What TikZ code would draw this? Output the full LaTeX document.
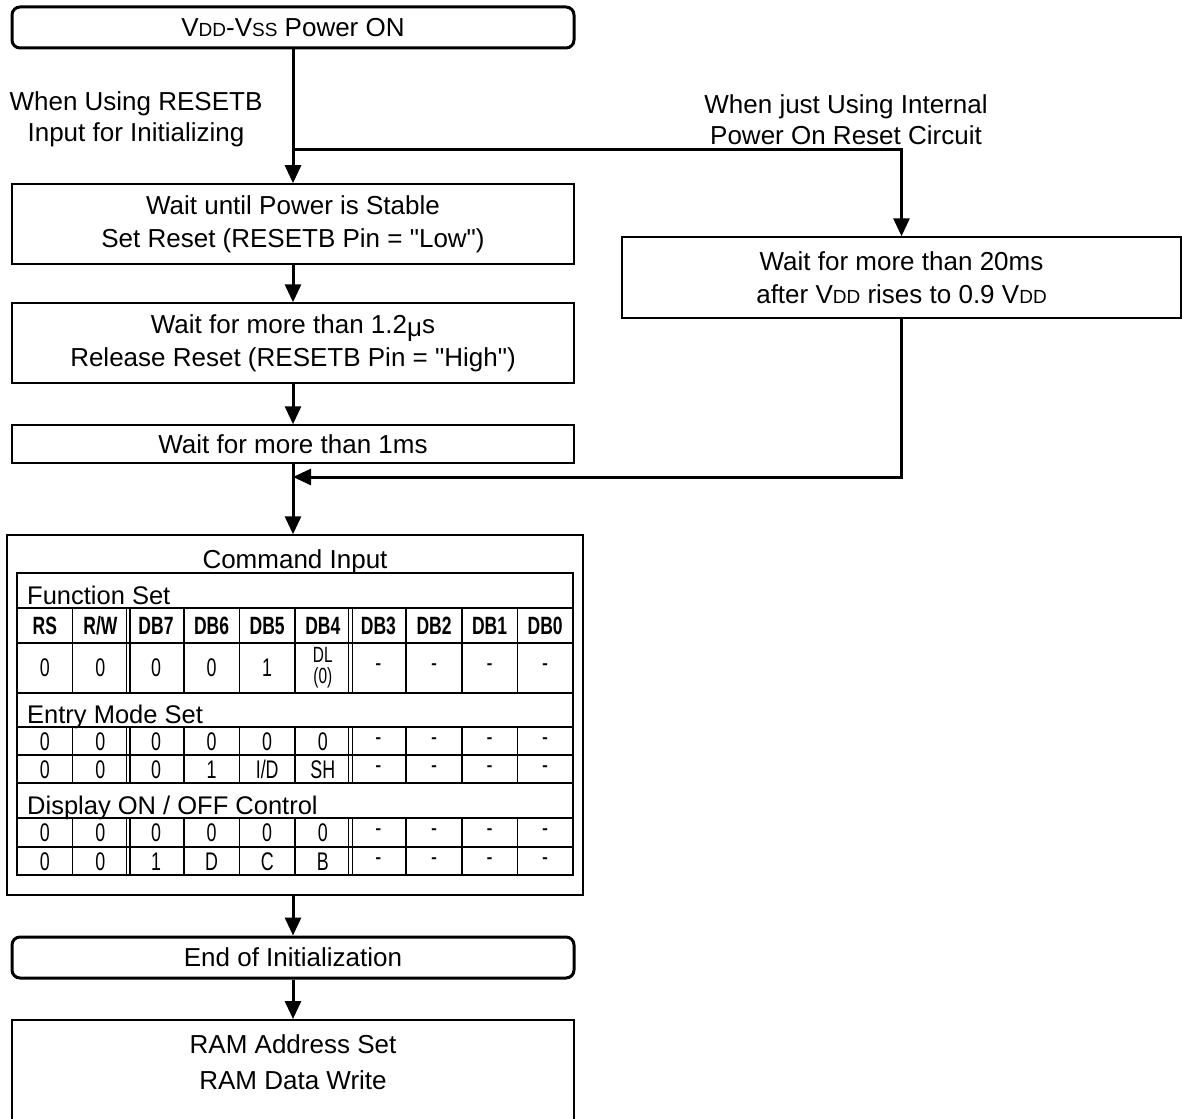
\documentclass[tikz,border=0pt]{standalone}
\usepackage{fontspec}
\setmainfont{Liberation Sans}
\newfontfamily\narrowfont[FakeStretch=0.7]{Liberation Sans}
\newfontfamily\plainq[Ligatures=ResetAll]{Liberation Sans}
\usetikzlibrary{arrows.meta}
\newcommand\smc[1]{{\fontsize{19}{20}\selectfont #1}}
\newcommand\qq{{\plainq\symbol{34}}}
\begin{document}
\begin{tikzpicture}[x=1pt,y=-1pt,
  box/.style={draw, line width=1.5pt, inner sep=0pt, align=center, minimum width=562pt,
              font=\fontsize{26}{33}\selectfont},
  rbox/.style={box, rounded corners=8pt, line width=3pt},
  lbl/.style={inner sep=0pt, align=center, font=\fontsize{26}{31}\selectfont},
  flow/.style={line width=3pt, -{Triangle[length=18pt,width=16pt]}},
  grid/.style={line width=1.6pt},
  dgrid/.style={line width=1.1pt},
  sect/.style={inner sep=0pt, anchor=base west, font=\fontsize{25.5}{28}\selectfont},
  cell/.style={inner sep=0pt, align=center, font=\narrowfont\fontsize{25.5}{22}\selectfont},
  scell/.style={inner sep=0pt, align=center, font=\narrowfont\fontsize{22}{21}\selectfont},
  hcell/.style={cell, font=\narrowfont\bfseries\fontsize{25}{22}\selectfont}]
\useasboundingbox (0,0) rectangle (1182,1118);
\clip (0,0) rectangle (1182,1118);
\fill[white] (0,0) rectangle (1182,1118);

% flow boxes
\node[rbox, minimum height=41pt] (top) at (293,27.5) {V\smc{DD}-V\smc{SS} Power ON};
\node[box, minimum height=80pt] (b2) at (293,224) {Wait until Power is Stable\\Set Reset (RESETB Pin = \qq Low\qq)};
\node[box, minimum height=80pt] (b3) at (293,343) {Wait for more than 1.2\raisebox{-3pt}{μ}s\\Release Reset (RESETB Pin = \qq High\qq)};
\node[box, minimum height=38pt] (b4) at (293,444) {Wait for more than 1ms};
\node[box, minimum width=559pt, minimum height=81pt] (rb) at (901.5,277.5) {Wait for more than 20ms\\after V\smc{DD} rises to 0.9 V\smc{DD}};
\node[box, minimum width=576pt, minimum height=360pt] (cmd) at (295,715) {};
\node[lbl, anchor=base] (cmdt) at (295,568) {Command Input};
\node[rbox, minimum height=41pt] (eoi) at (293,957.5) {End of Initialization};
\node[box, minimum height=140pt, anchor=north] (ram) at (293,1019) {};
\node[lbl, align=center, font=\fontsize{26}{36}\selectfont] (ramt) at (293,1062) {RAM Address Set\\RAM Data Write};

% labels
\node[lbl] (l1) at (136,119.5) {When Using RESETB\\Input for Initializing};
\node[lbl] (l2) at (846,119.5) {When just Using Internal\\Power On Reset Circuit};

% connectors
\coordinate (j1) at (293,150);
\coordinate (j2) at (293,477);
\draw[flow] (top.south) -- (b2.north);
\draw[flow] (j1) -| (rb.north);
\draw[flow] (b2.south) -- (b3.north);
\draw[flow] (b3.south) -- (b4.north);
\draw[flow] (b4.south) -- (b4.south |- cmd.north);
\draw[flow] (rb.south) |- (j2);
\draw[flow] (eoi.north |- cmd.south) -- (eoi.north);
\draw[flow] (eoi.south) -- (ram.north);

% table
\draw[line width=2pt] (17,573) rectangle (573,875);
\foreach \y in {608,643,693,727,755,783,818,847} \draw[grid] (17,\y) -- (573,\y);
\foreach \ya/\yb in {608/693,727/783,818/875}{
  \foreach \k in {1,3,4,5,7,8,9} \draw[grid] ({17+55.6*\k},\ya) -- ({17+55.6*\k},\yb);
  \foreach \k in {2,6} {
    \draw[dgrid] ({17+55.6*\k-1.8},\ya) -- ({17+55.6*\k-1.8},\yb);
    \draw[dgrid] ({17+55.6*\k+1.8},\ya) -- ({17+55.6*\k+1.8},\yb);
  }
}
\node[sect] (s1) at (27,604) {Function Set};
\node[sect] (s2) at (27,723) {Entry Mode Set};
\node[sect] (s3) at (27,814) {Display ON / OFF Control};

\foreach \t [count=\i] in {RS,R/W,DB7,DB6,DB5,DB4,DB3,DB2,DB1,DB0}
  \node[hcell] (h\i) at ({17+55.6*\i-27.8},626) {\t};
\foreach \t [count=\i] in {0,0,0,0,1}
  \node[cell] (v\i) at ({17+55.6*\i-27.8},668) {\t};
\node[scell] (v6) at ({17+55.6*6-27.8},668) {DL\\(0)};
\foreach \t [count=\i from 7] in {-,-,-,-}
  \node[cell] (v\i) at ({17+55.6*\i-27.8},668) {\t};
\foreach \t [count=\i] in {0,0,0,0,0,0,-,-,-,-}
  \node[cell] (ea\i) at ({17+55.6*\i-27.8},741.5) {\t};
\foreach \t [count=\i] in {0,0,0,1,I/D,SH,-,-,-,-}
  \node[cell] (eb\i) at ({17+55.6*\i-27.8},769.5) {\t};
\foreach \t [count=\i] in {0,0,0,0,0,0,-,-,-,-}
  \node[cell] (da\i) at ({17+55.6*\i-27.8},833) {\t};
\foreach \t [count=\i] in {0,0,1,D,C,B,-,-,-,-}
  \node[cell] (db\i) at ({17+55.6*\i-27.8},861.5) {\t};
\end{tikzpicture}
\end{document}
